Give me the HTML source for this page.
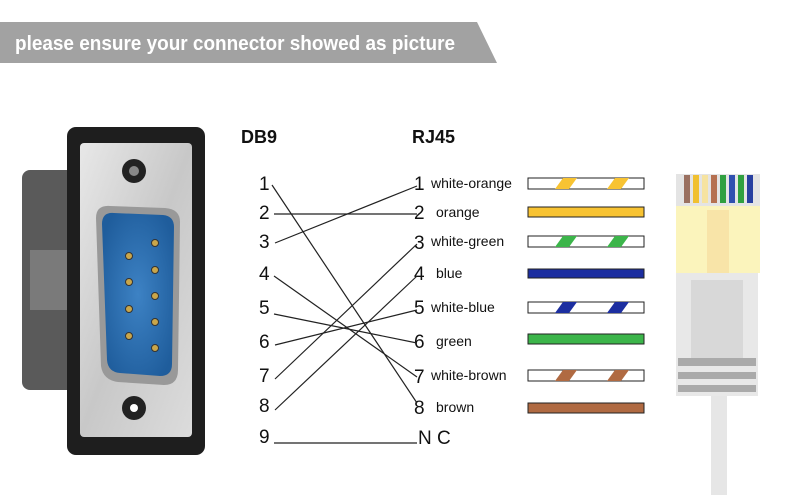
<!DOCTYPE html>
<html><head><meta charset="utf-8"><style>
body{margin:0;width:800px;height:495px;background:#fff;overflow:hidden;font-family:"Liberation Sans",sans-serif}
</style></head><body>
<svg width="800" height="495" viewBox="0 0 800 495" xmlns="http://www.w3.org/2000/svg" font-family="Liberation Sans, sans-serif">
<defs>
<linearGradient id="sil" x1="0" y1="0" x2="1" y2="1"><stop offset="0" stop-color="#e8e8e8"/><stop offset="0.5" stop-color="#c8c8c8"/><stop offset="1" stop-color="#dcdcdc"/></linearGradient>
<radialGradient id="blu" cx="0.5" cy="0.5" r="0.6"><stop offset="0" stop-color="#3d82c4"/><stop offset="1" stop-color="#1f5d9c"/></radialGradient>
</defs>
<polygon points="0,22 477,22 497,63 0,63" fill="#a2a2a2"/>
<text x="15" y="50" fill="#fff" font-size="20" font-weight="bold" textLength="440" lengthAdjust="spacingAndGlyphs">please ensure your connector showed as picture</text>

<!-- DB9 connector -->
<rect x="22" y="170" width="55" height="220" rx="8" fill="#5a5a5a"/>
<rect x="30" y="250" width="40" height="60" fill="#7a7a7a"/>
<rect x="67" y="127" width="138" height="328" rx="9" fill="#1e1e1e"/>
<rect x="80" y="143" width="112" height="294" rx="4" fill="url(#sil)"/>
<circle cx="134" cy="171" r="12" fill="#222"/><circle cx="134" cy="171" r="5" fill="#888"/>
<circle cx="134" cy="408" r="12" fill="#222"/><circle cx="134" cy="408" r="4" fill="#fff"/>
<path d="M96,218 Q96,205 110,206 L165,208 Q180,209 180,222 L178,370 Q178,385 164,385 L118,382 Q103,380 101,366 Z" fill="#999" />
<path d="M102,224 Q102,212 114,213 L163,215 Q174,216 174,227 L172,364 Q172,376 160,376 L120,373 Q108,372 107,360 Z" fill="url(#blu)"/>
<g fill="#c9a64a" stroke="#333" stroke-width="1">
<circle cx="155" cy="243" r="3.5"/><circle cx="155" cy="270" r="3.5"/><circle cx="155" cy="296" r="3.5"/><circle cx="155" cy="322" r="3.5"/><circle cx="155" cy="348" r="3.5"/>
<circle cx="129" cy="256" r="3.5"/><circle cx="129" cy="282" r="3.5"/><circle cx="129" cy="309" r="3.5"/><circle cx="129" cy="336" r="3.5"/>
</g>

<!-- headings -->
<text x="241" y="143" font-size="18" font-weight="bold" fill="#111">DB9</text>
<text x="412" y="143" font-size="18" font-weight="bold" fill="#111">RJ45</text>

<g font-size="19" fill="#111">
<text x="259" y="190">1</text><text x="259" y="219">2</text><text x="259" y="248">3</text>
<text x="259" y="280">4</text><text x="259" y="314">5</text><text x="259" y="348">6</text>
<text x="259" y="382">7</text><text x="259" y="412">8</text><text x="259" y="443">9</text>
<text x="414" y="190">1</text><text x="414" y="219">2</text><text x="414" y="249">3</text>
<text x="414" y="280">4</text><text x="414" y="314">5</text><text x="414" y="348">6</text>
<text x="414" y="383">7</text><text x="414" y="414">8</text><text x="418" y="444">N C</text>
</g>
<g font-size="14" fill="#111">
<text x="431" y="188">white-orange</text><text x="436" y="217">orange</text><text x="431" y="246">white-green</text>
<text x="436" y="278">blue</text><text x="431" y="312">white-blue</text><text x="436" y="346">green</text>
<text x="431" y="380">white-brown</text><text x="436" y="412">brown</text>
</g>
<g stroke="#222" stroke-width="1.2" fill="none">
<line x1="272" y1="185" x2="417" y2="403"/>
<line x1="274" y1="214" x2="417" y2="214"/>
<line x1="275" y1="243" x2="417" y2="186"/>
<line x1="274" y1="276" x2="417" y2="377"/>
<line x1="274" y1="314" x2="417" y2="343"/>
<line x1="275" y1="345" x2="417" y2="310"/>
<line x1="275" y1="379" x2="417" y2="244"/>
<line x1="275" y1="410" x2="417" y2="276"/>
<line x1="274" y1="443" x2="417" y2="443"/>
</g>
<!-- bars -->
<g stroke="#222" stroke-width="1">
<rect x="528" y="178" width="116" height="11" fill="#fff"/>
<rect x="528" y="207" width="116" height="10" fill="#f8c332"/>
<rect x="528" y="236" width="116" height="11" fill="#fff"/>
<rect x="528" y="269" width="116" height="9" fill="#1c2ea0"/>
<rect x="528" y="302" width="116" height="11" fill="#fff"/>
<rect x="528" y="334" width="116" height="10" fill="#3cb54a"/>
<rect x="528" y="370" width="116" height="11" fill="#fff"/>
<rect x="528" y="403" width="116" height="10" fill="#b06a42"/>
</g>
<g>
<polygon points="555,189 563,178 577,178 569,189" fill="#f8c332"/><polygon points="607,189 615,178 629,178 621,189" fill="#f8c332"/>
<polygon points="555,247 563,236 577,236 569,247" fill="#3cb54a"/><polygon points="607,247 615,236 629,236 621,247" fill="#3cb54a"/>
<polygon points="555,313 563,302 577,302 569,313" fill="#1c2ea0"/><polygon points="607,313 615,302 629,302 621,313" fill="#1c2ea0"/>
<polygon points="555,381 563,370 577,370 569,381" fill="#b06a42"/><polygon points="607,381 615,370 629,370 621,381" fill="#b06a42"/>
</g>

<!-- RJ45 plug -->
<rect x="676" y="174" width="84" height="32" fill="#e4e4e4"/>
<g>
<rect x="684" y="175" width="6" height="28" fill="#9a7060"/>
<rect x="693" y="175" width="6" height="28" fill="#f0c030"/>
<rect x="702" y="175" width="6" height="28" fill="#f6e3a0"/>
<rect x="711" y="175" width="6" height="28" fill="#b57050"/>
<rect x="720" y="175" width="6" height="28" fill="#30a040"/>
<rect x="729" y="175" width="6" height="28" fill="#3050b0"/>
<rect x="738" y="175" width="6" height="28" fill="#30a040"/>
<rect x="747" y="175" width="6" height="28" fill="#2840a0"/>
</g>
<rect x="676" y="206" width="84" height="67" fill="#fbf4bc"/>
<rect x="707" y="210" width="22" height="63" fill="#f8e4a8"/>
<rect x="676" y="273" width="82" height="123" fill="#e8e8e8"/>
<rect x="691" y="280" width="52" height="80" fill="#d8d8d8"/>
<rect x="678" y="358" width="78" height="8" fill="#aaa"/>
<rect x="678" y="372" width="78" height="7" fill="#aaa"/>
<rect x="678" y="385" width="78" height="7" fill="#aaa"/>
<rect x="711" y="396" width="16" height="99" fill="#e6e6e6"/>
</svg>
</body></html>
